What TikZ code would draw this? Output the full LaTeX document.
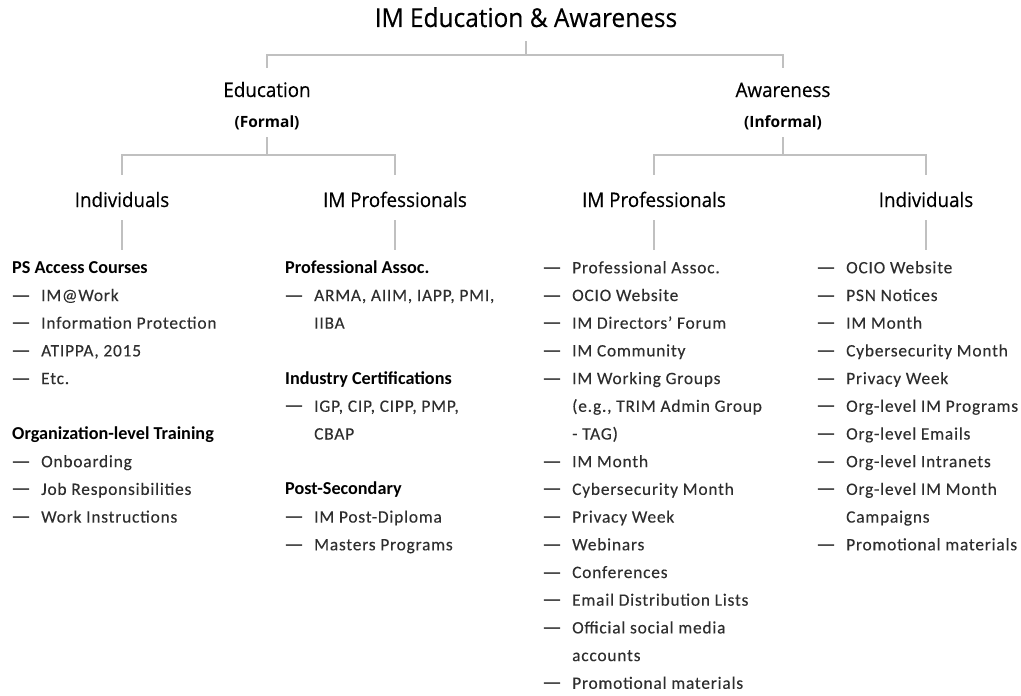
\documentclass[tikz,border=0pt]{standalone}
\usepackage{fontspec}
\setmainfont{Carlito}
\newfontfamily\headfont[FakeStretch=0.94,FakeBold=0.4]{Open Sans}
\newfontfamily\tagfont{Open Sans}
\newfontfamily\itemfont[LetterSpace=4.5,FakeBold=0.15]{Carlito}
\newfontfamily\dashfont{DejaVu Sans}
\definecolor{linegray}{HTML}{C0C0C0}
\definecolor{itemgray}{HTML}{2E2E2E}

% baseline of list row k
\newcommand\rowy[1]{273.3+27.7*#1}
% dashed list entry: name, x of dash, row, text
\newcommand\dashitem[4]{%
  \node[dashmark] (#1d) at (#2,\rowy{#3}) {—};
  \node[item] (#1) at (#2+29,\rowy{#3}) {#4};}
% continuation line of an entry
\newcommand\moreline[4]{\node[item] (#1) at (#2+29,\rowy{#3}) {#4};}
% bold group heading
\newcommand\subhead[4]{\node[sub] (#1) at (#2,\rowy{#3}) {#4};}

\begin{document}
\begin{tikzpicture}[x=1pt,y=-1pt,
  conn/.style={draw=linegray,line width=2pt},
  ttl/.style={anchor=base,inner sep=0pt,text depth=0pt,font=\headfont\fontsize{26}{26}\selectfont,text=black},
  head/.style={anchor=base,inner sep=0pt,text height=15pt,text depth=4pt,font=\headfont\fontsize{20}{20}\selectfont,text=black},
  tag/.style={anchor=base,inner sep=0pt,text depth=3pt,font=\tagfont\bfseries\fontsize{15.5}{15.5}\selectfont,text=black},
  sub/.style={anchor=base west,inner sep=0pt,font=\bfseries\fontsize{18.2}{18.2}\selectfont,text=black},
  dashmark/.style={anchor=base west,inner sep=0pt,font=\dashfont\fontsize{18}{18}\selectfont,text=black},
  item/.style={anchor=base west,inner sep=0pt,text=itemgray,font=\itemfont\fontsize{17.4}{17.4}\selectfont}]

\fill[white] (0,0) rectangle (1021,696);
\useasboundingbox (0,0) rectangle (1021,696);

% tree headings
\node[ttl] (title) at (526,27) {IM Education \& Awareness};
\node[head] (edu) at (267,97) {Education};
\node[tag] (formal) at (267,127) {(Formal)};
\node[head] (awa) at (783,97) {Awareness};
\node[tag] (informal) at (783,127) {(Informal)};
\node[head] (eind) at (122,207) {Individuals};
\node[head] (epro) at (395,207) {IM Professionals};
\node[head] (apro) at (654,207) {IM Professionals};
\node[head] (aind) at (926,207) {Individuals};

% connectors
\draw[conn] ([yshift=-14pt]title.south) -- ([yshift=-28pt]title.south) coordinate (bar0);
\draw[conn] (bar0) -| ([yshift=14pt]edu.north);
\draw[conn] (bar0) -| ([yshift=14pt]awa.north);

\draw[conn] ([yshift=-7pt]formal.south) -- ++(0,18) coordinate (bar1);
\draw[conn] (bar1) -| ([yshift=17pt]eind.north);
\draw[conn] (bar1) -| ([yshift=17pt]epro.north);

\draw[conn] ([yshift=-7pt]informal.south) -- ++(0,18) coordinate (bar2);
\draw[conn] (bar2) -| ([yshift=17pt]apro.north);
\draw[conn] (bar2) -| ([yshift=17pt]aind.north);

\foreach \n in {eind,epro,apro,aind}
  \draw[conn] ([yshift=-9pt]\n.south) -- ++(0,30) coordinate (\n-end);

% Education / Individuals
\subhead{ps}{12}{0}{PS Access Courses}
\dashitem{ps1}{12}{1}{IM@Work}
\dashitem{ps2}{12}{2}{Information Protection}
\dashitem{ps3}{12}{3}{ATIPPA, 2015}
\dashitem{ps4}{12}{4}{Etc.}
\subhead{org}{12}{6}{Organization-level Training}
\dashitem{org1}{12}{7}{Onboarding}
\dashitem{org2}{12}{8}{Job Responsibilities}
\dashitem{org3}{12}{9}{Work Instructions}

% Education / IM Professionals
\subhead{pa}{285}{0}{Professional Assoc.}
\dashitem{pa1}{285}{1}{ARMA, AIIM, IAPP, PMI,}
\moreline{pa1b}{285}{2}{IIBA}
\subhead{ic}{285}{4}{Industry Certifications}
\dashitem{ic1}{285}{5}{IGP, CIP, CIPP, PMP,}
\moreline{ic1b}{285}{6}{CBAP}
\subhead{pse}{285}{8}{Post-Secondary}
\dashitem{pse1}{285}{9}{IM Post-Diploma}
\dashitem{pse2}{285}{10}{Masters Programs}

% Awareness / IM Professionals
\dashitem{ap1}{543}{0}{Professional Assoc.}
\dashitem{ap2}{543}{1}{OCIO Website}
\dashitem{ap3}{543}{2}{IM Directors’ Forum}
\dashitem{ap4}{543}{3}{IM Community}
\dashitem{ap5}{543}{4}{IM Working Groups}
\moreline{ap5b}{543}{5}{(e.g., TRIM Admin Group}
\moreline{ap5c}{543}{6}{- TAG)}
\dashitem{ap6}{543}{7}{IM Month}
\dashitem{ap7}{543}{8}{Cybersecurity Month}
\dashitem{ap8}{543}{9}{Privacy Week}
\dashitem{ap9}{543}{10}{Webinars}
\dashitem{ap10}{543}{11}{Conferences}
\dashitem{ap11}{543}{12}{Email Distribution Lists}
\dashitem{ap12}{543}{13}{Official social media}
\moreline{ap12b}{543}{14}{accounts}
\dashitem{ap13}{543}{15}{Promotional materials}

% Awareness / Individuals
\dashitem{ai1}{817}{0}{OCIO Website}
\dashitem{ai2}{817}{1}{PSN Notices}
\dashitem{ai3}{817}{2}{IM Month}
\dashitem{ai4}{817}{3}{Cybersecurity Month}
\dashitem{ai5}{817}{4}{Privacy Week}
\dashitem{ai6}{817}{5}{Org-level IM Programs}
\dashitem{ai7}{817}{6}{Org-level Emails}
\dashitem{ai8}{817}{7}{Org-level Intranets}
\dashitem{ai9}{817}{8}{Org-level IM Month}
\moreline{ai9b}{817}{9}{Campaigns}
\dashitem{ai10}{817}{10}{Promotional materials}
\end{tikzpicture}
\end{document}
